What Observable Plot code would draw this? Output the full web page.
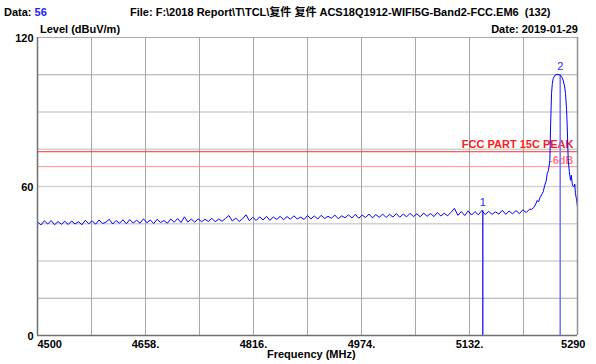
<!DOCTYPE html>
<html>
<head>
<meta charset="utf-8">
<script src="https://cdn.jsdelivr.net/npm/d3@7"></script>
<script src="https://cdn.jsdelivr.net/npm/@observablehq/plot@0.6"></script>
<style>
  body { margin: 0; background: #fff; }
  #wrap { position: relative; width: 596px; height: 364px; font-family: "Liberation Sans", Arial, "Noto Sans CJK SC", sans-serif; font-size: 11px; color: #000; }
  .lbl { position: absolute; white-space: pre; line-height: 12px; font-weight: bold; }
</style>
</head>
<body>
<div id="wrap">
  <div id="chart"></div>
  <div class="lbl" style="left:4px; top:6px;">Data: <span style="color:#1a1aff">56</span></div>
  <div class="lbl" style="left:130px; top:6px;">File: F:\2018 Report\T\TCL\复件 复件 ACS18Q1912-WIFI5G-Band2-FCC.EM6  (132)</div>
  <div class="lbl" style="left:40px; top:23px;">Level (dBuV/m)</div>
  <div class="lbl" style="right:18px; top:23px;">Date: 2019-01-29</div>
  <div class="lbl" style="left:267px; top:348px;">Frequency (MHz)</div>
</div>
<script>
// Sweep: flat part starts at 4500 MHz, 5 MHz spacing
const flatStart = 4500;
const flatStep = 5;
const flatLevels = [
  45.8, 44.5, 46.2, 44.9, 46.3, 44.6, 45.9, 44.8, 46.0, 44.7,
  46.1, 44.9, 45.8, 44.6, 46.4, 45.0, 46.2, 44.8, 46.5, 45.1,
  45.6, 46.8, 44.9, 46.3, 45.2, 46.6, 45.0, 46.7, 45.3, 46.4,
  45.2, 47.0, 45.4, 46.5, 45.1, 46.8, 45.5, 46.3, 45.2, 46.9,
  45.6, 47.1, 45.5, 47.8, 45.7, 46.9, 45.6, 47.0, 45.8, 46.8,
  45.9, 47.2, 45.8, 46.9, 46.0, 47.1, 48.3, 46.1, 47.3, 45.9,
  47.0, 48.6, 46.2, 47.6, 46.3, 47.8, 46.5, 48.0, 46.4, 47.7,
  46.7, 48.0, 46.6, 47.9, 46.8, 48.2, 46.9, 47.7, 46.7, 48.3,
  47.0, 48.1, 46.9, 48.4, 47.1, 48.0, 47.2, 48.5, 47.0, 48.2,
  47.4, 48.6, 47.3, 48.8, 47.2, 48.5, 47.5, 48.9, 47.4, 48.7,
  47.6, 48.9, 47.5, 48.8, 47.7, 49.1, 47.6, 48.9, 47.8, 49.2,
  47.9, 49.0, 47.8, 49.3, 48.0, 49.1, 47.9, 49.5, 48.1, 49.2,
  48.2, 49.6, 51.2, 48.4, 49.9, 48.3, 50.2, 48.5, 49.9, 48.6,
  50.3, 48.7, 50.0, 48.8, 49.8, 48.9, 50.4, 48.8, 50.1, 49.0,
  50.3, 49.1, 50.6, 49.5, 50.9
];
// Emission peak region
const peakFreq  = [5223, 5226, 5229, 5231, 5233, 5235, 5238.4, 5240, 5242, 5244, 5245.7, 5247.5, 5249.6, 5250.6, 5252, 5253.2, 5254.5, 5257, 5260, 5263, 5265, 5267, 5269, 5271, 5272.5, 5274, 5275, 5276.4, 5278, 5279.8, 5281, 5282.5, 5284.5, 5286, 5287, 5288.5, 5290];
const peakLevel = [50.8, 51.5, 53.0, 54.4, 53.8, 55.5, 57.1, 58.0, 60.5, 62.0, 65.2, 66.5, 70.6, 84.0, 97.5, 101.5, 103.5, 104.8, 105.2, 105.0, 104.8, 104.0, 102.8, 100.5, 97.5, 91.0, 84.0, 70.6, 66.0, 62.5, 64.5, 60.5, 59.8, 61.0, 57.1, 55.0, 51.7];

const limitPeak = 74;
const limitOffset = 6;
const marker1 = {f: 5151.5, level: 50.2, label: "1"};
const marker2 = {f: 5264.7, level: 105.0, label: "2"};

const xGrid = [4500, 4579, 4658, 4737, 4816, 4895, 4974, 5053, 5132, 5211, 5290];
const yGridLight = [90, 75, 60, 45, 30];
const yGridDark = [120, 105, 15];
const xTickLabels = ["4500", "4658.", "4816.", "4974.", "5132.", "5290"];
const xTickValues = [4500, 4658, 4816, 4974, 5132, 5290];
const yTickValues = [120, 60, 0];

const trace = flatLevels.map((v, i) => ({f: flatStart + i * flatStep, v}))
  .concat(peakFreq.map((f, i) => ({f, v: peakLevel[i]})));

const xt = xTickValues.map((v, i) => ({v, label: xTickLabels[i]}));

const plot = Plot.plot({
  width: 596,
  height: 364,
  marginLeft: 37,
  marginRight: 19,
  marginTop: 37,
  marginBottom: 29,
  style: {fontFamily: "'Liberation Sans', Arial, sans-serif", fontSize: "11px", background: "#fff"},
  x: {domain: [4500, 5290], axis: null},
  y: {domain: [0, 120], axis: null},
  marks: [
    Plot.ruleY(yGridLight, {stroke: "#d2d2d2", strokeWidth: 1.3}),
    Plot.ruleY(yGridDark, {stroke: "#a8a8a8", strokeWidth: 1}),
    Plot.ruleX(xGrid.slice(1, -1), {stroke: "#a8a8a8", strokeWidth: 1}),
    Plot.ruleY([limitPeak], {stroke: "#ff3030", strokeWidth: 1}),
    Plot.ruleY([limitPeak - limitOffset], {stroke: "#ff9090", strokeWidth: 1}),
    Plot.text(["FCC PART 15C PEAK"], {x: 5290, y: limitPeak, dx: -4, dy: -7, textAnchor: "end", fill: "#ff1a1a", fontWeight: "bold", fontSize: 11}),
    Plot.text(["-6dB"], {x: 5290, y: limitPeak - limitOffset, dx: -4, dy: -6, textAnchor: "end", fill: "#ff8080", fontWeight: "bold", fontSize: 11}),
    Plot.ruleX([marker2], {x: "f", y1: 0, y2: "level", stroke: "#7878ff", strokeWidth: 1.6}),
    Plot.line(trace, {x: "f", y: "v", stroke: "#0000ff", strokeWidth: 1}),
    Plot.ruleX([marker1], {x: "f", y1: 0, y2: "level", stroke: "#0000ff", strokeWidth: 1.2}),
    Plot.text([marker1, marker2], {x: "f", y: "level", text: "label", dy: -8, fill: "#2a2aff", fontSize: 11, fontWeight: "normal"}),
    Plot.ruleX([4500], {stroke: "#707070", strokeWidth: 1.5}),
    Plot.ruleX([5290], {stroke: "#909090", strokeWidth: 1.5}),
    Plot.ruleY([0], {stroke: "#707070", strokeWidth: 1.5}),
    Plot.text(xt.slice(0, 1), {x: "v", y: 0, text: "label", dy: 9, textAnchor: "start", fontWeight: "bold"}),
    Plot.text(xt.slice(1, -1), {x: "v", y: 0, text: "label", dy: 9, textAnchor: "middle", fontWeight: "bold"}),
    Plot.text(xt.slice(-1), {x: "v", y: 0, text: "label", dy: 9, dx: 8, textAnchor: "end", fontWeight: "bold"}),
    Plot.text(yTickValues, {x: 4500, y: d => d, text: d => String(d), dx: -4, dy: 1, textAnchor: "end", fontWeight: "bold"})
  ]
});
document.getElementById("chart").appendChild(plot);
</script>
</body>
</html>
